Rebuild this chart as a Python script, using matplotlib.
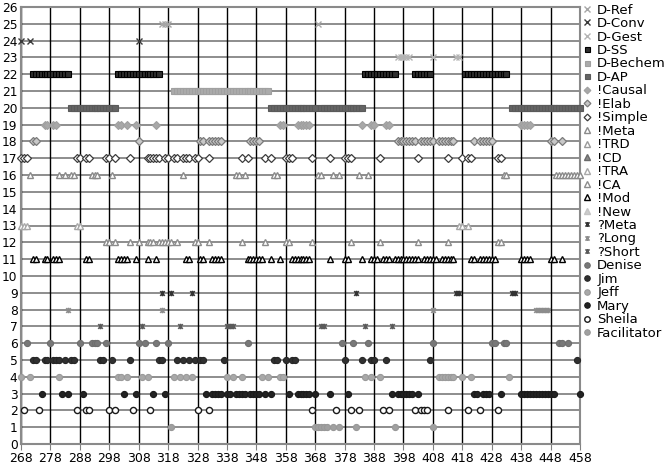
import matplotlib
matplotlib.use("Agg")
import matplotlib.pyplot as plt
from matplotlib.path import Path

# ---------------- data (x positions) ----------------
series_names = ["D-Ref", "D-Conv", "D-Gest", "D-SS", "D-Bechem", "D-AP",
                "!Causal", "!Elab", "!Simple", "!Meta", "!TRD", "!CD", "!TRA",
                "!CA", "!Mod", "!New", "?Meta", "?Long", "?Short",
                "Denise", "Jim", "Jeff", "Mary", "Sheila", "Facilitator"]
series_rows = [25, 24, 23, 22, 21, 20, 19, 18, 17, 16, 15, 14, 13, 12, 11, 10,
               9, 8, 7, 6, 5, 4, 3, 2, 1]

d_ref = [316, 317, 318, 369]
d_conv = [268, 271, 308]
d_gest = [396, 397, 398, 399, 400, 408, 416, 417]
d_ss = [272, 273, 274, 275, 276, 277, 278, 279, 280, 281, 282, 283, 284,
        301, 302, 303, 304, 305, 306, 307, 308, 309, 310, 311, 312, 313, 314, 315,
        385, 386, 387, 388, 389, 390, 391, 392, 393, 394, 395,
        402, 403, 404, 405, 406, 407,
        419, 420, 421, 422, 423, 424, 425, 426, 427, 428, 429, 430, 431, 432, 433]
d_bechem = [320, 321, 322, 323, 324, 325, 326, 327, 328, 329, 330, 331, 332,
            333, 334, 335, 336, 337, 338, 339, 340, 341, 342, 343, 344, 345,
            346, 347, 348, 349, 350, 351, 352]
d_ap = [285, 286, 287, 288, 289, 290, 291, 292, 293, 294, 295, 296, 297, 298, 299, 300,
        353, 354, 355, 356, 357, 358, 359, 360, 361, 362, 363, 364, 365, 366, 367, 368,
        370, 371, 372, 373, 374, 375, 376, 377, 378, 379, 380, 381, 382, 383, 384,
        435, 436, 437, 438, 439, 440, 441, 442, 443, 444, 445, 446, 447, 448, 449,
        450, 451, 452, 453, 454, 455, 456, 457, 458]
causal = [276, 277, 279, 280, 301, 302, 304, 307, 314, 356, 357, 362, 363, 364,
          365, 366, 384, 387, 388, 392, 393, 438, 439, 440, 441]
elab = [272, 273, 308, 329, 330, 332, 333, 334, 335, 336, 346, 347, 348, 349,
        396, 397, 398, 399, 400, 401, 402, 404, 405, 406, 407, 408, 410, 411,
        412, 413, 414, 415, 422, 424, 425, 426, 427, 428, 448, 449, 452]
simple = [268, 269, 270, 287, 288, 290, 291, 297, 298, 300, 305, 311, 312, 313,
          314, 315, 317, 318, 320, 321, 323, 324, 325, 327, 328, 332, 343, 345,
          351, 353, 358, 359, 360, 367, 373, 378, 379, 380, 390, 403, 413, 418,
          420, 421, 430, 431]
meta_ex = [271, 281, 283, 285, 286, 292, 293, 294, 299, 323, 341, 342, 344, 354,
           355, 369, 370, 374, 376, 383, 386, 432, 433, 450, 451, 452, 453, 454,
           455, 456, 457, 458]
trd = []
cd = []
tra = [268, 269, 270, 287, 288, 417, 418, 420]
ca = [297, 298, 300, 305, 308, 311, 312, 313, 315, 316, 317, 318, 319, 321, 327,
      328, 332, 343, 351, 358, 359, 367, 380, 390, 403, 413, 430, 431]
mod = [272, 273, 276, 277, 279, 280, 281, 290, 291, 301, 302, 303, 304, 307, 311,
       314, 324, 325, 329, 330, 333, 334, 335, 336, 345, 346, 347, 348, 349, 350,
       353, 356, 360, 361, 362, 363, 364, 365, 366, 373, 378, 379, 384, 387, 388,
       389, 391, 392, 393, 395, 396, 397, 398, 399, 400, 401, 402, 403, 405, 406,
       407, 408, 409, 411, 412, 413, 414, 415, 421, 422, 424, 425, 426, 427, 428,
       429, 438, 439, 440, 441, 448, 449, 452]
new = []
q_meta = [316, 319, 326, 382, 416, 417, 435, 436]
q_long = [284, 316, 408, 443, 444, 445, 446, 447]
q_short = [295, 309, 322, 338, 339, 340, 370, 371, 385, 394]
denise = [270, 278, 288, 292, 293, 294, 297, 308, 310, 314, 318, 345, 377, 381,
          386, 408, 428, 429, 432, 433, 451, 452, 454]
jim = [272, 273, 276, 277, 279, 280, 281, 283, 285, 286, 295, 296, 299, 305, 315,
       316, 321, 323, 325, 327, 329, 330, 337, 354, 355, 358, 360, 361, 378, 384,
       387, 388, 392, 407, 457]
jeff = [268, 271, 281, 301, 302, 304, 309, 311, 320, 322, 324, 326, 338, 340, 343,
        350, 352, 356, 357, 385, 387, 390, 410, 411, 412, 413, 414, 415, 418, 421, 434]
mary = [275, 282, 284, 289, 303, 307, 313, 317, 331, 333, 334, 335, 336, 338, 339,
        341, 342, 343, 344, 346, 347, 348, 349, 351, 353, 359, 362, 363, 364, 365,
        366, 368, 373, 379, 394, 396, 397, 398, 399, 400, 401, 403, 422, 423, 425,
        426, 427, 431, 438, 439, 440, 441, 442, 443, 444, 445, 446, 447, 448, 449, 458]
sheila = [269, 274, 287, 290, 291, 298, 300, 306, 312, 328, 332, 367, 375, 380,
          383, 391, 393, 402, 404, 405, 406, 413, 420, 424, 430]
facil = [319, 368, 369, 370, 371, 372, 374, 376, 382, 395, 408]

series_x = [d_ref, d_conv, d_gest, d_ss, d_bechem, d_ap, causal, elab, simple,
            meta_ex, trd, cd, tra, ca, mod, new, q_meta, q_long, q_short,
            denise, jim, jeff, mary, sheila, facil]

x_ticks = [268, 278, 288, 298, 308, 318, 328, 338, 348, 358, 368, 378, 388, 398,
           408, 418, 428, 438, 448, 458]
y_ticks = list(range(0, 27))

# ---------------- styles ----------------
star = Path([(-1, -1), (1, 1), (-1, 1), (1, -1), (0, -1.2), (0, 1.2)],
            [Path.MOVETO, Path.LINETO, Path.MOVETO, Path.LINETO, Path.MOVETO, Path.LINETO])

# (marker, size, facecolor, edgecolor, edgewidth)
styles = [
    ("x", 4.5, "none", "#a6a6a6", 1.0),
    ("x", 4.5, "none", "#3a3a3a", 1.0),
    ("x", 4.5, "none", "#b4b4b4", 1.0),
    ("s", 4.0, "#2e2e2e", "#000000", 0.8),
    ("s", 4.0, "#ababab", "#a0a0a0", 0.8),
    ("s", 4.0, "#646464", "#5a5a5a", 0.8),
    ("D", 3.8, "#a8a8a8", "#a0a0a0", 0.8),
    ("D", 3.8, "#c8c8c8", "#7a7a7a", 0.9),
    ("D", 3.8, "#ffffff", "#3c3c3c", 0.9),
    ("^", 4.4, "#ffffff", "#8a8a8a", 1.0),
    ("^", 4.4, "#ffffff", "#9a9a9a", 1.0),
    ("^", 4.4, "#8a8a8a", "#6a6a6a", 1.0),
    ("^", 4.4, "#ffffff", "#a8a8a8", 1.0),
    ("^", 4.4, "#ffffff", "#8c8c8c", 1.0),
    ("^", 4.4, "#ffffff", "#000000", 1.0),
    ("^", 4.4, "#cccccc", "#c4c4c4", 1.0),
    (star, 4.0, "none", "#333333", 1.1),
    (star, 4.0, "none", "#8c8c8c", 1.1),
    (star, 4.0, "none", "#5a5a5a", 1.1),
    ("o", 4.4, "#787878", "#6e6e6e", 0.8),
    ("o", 4.4, "#303030", "#262626", 0.8),
    ("o", 4.4, "#a8a8a8", "#9a9a9a", 0.8),
    ("o", 4.4, "#222222", "#1a1a1a", 0.8),
    ("o", 4.4, "#ffffff", "#1a1a1a", 1.0),
    ("o", 4.4, "#a0a0a0", "#989898", 0.8),
]

fig = plt.figure(figsize=(6.7, 4.7), dpi=100)
ax = fig.add_axes([21 / 670, 1 - 444 / 470, (580 - 21) / 670, (444 - 7) / 470])
ax.set_xlim(268, 458)
ax.set_ylim(0, 26)

# grid
for y in y_ticks:
    ax.axhline(y, color="#7a7a7a", lw=1.2, zorder=1)
for x in x_ticks:
    ax.axvline(x, color="#000000", lw=1.0, zorder=1)

for name, row, xs, st in zip(series_names, series_rows, series_x, styles):
    m, ms, fc, ec, ew = st
    ax.plot(xs, [row] * len(xs), linestyle="none", marker=m, markersize=ms,
            markerfacecolor=fc, markeredgecolor=ec, markeredgewidth=ew,
            label=name, zorder=3, clip_on=False)

ax.set_xticks(x_ticks)
ax.set_yticks(y_ticks)
ax.tick_params(axis="x", direction="out", length=4, color="#808080", pad=2,
               labelsize=9, labelcolor="#000000")
ax.tick_params(axis="y", length=0, pad=2.5, labelsize=8.8, labelcolor="#000000")
for s in ax.spines.values():
    s.set_color("#8a8a8a")
    s.set_linewidth(1.5)

leg = fig.legend(loc="upper left", bbox_to_anchor=(580 / 670, 1 - 1 / 470),
                 frameon=False, fontsize=9.5, handlelength=0.6,
                 handletextpad=0.5, labelspacing=0.035, borderpad=0.2,
                 borderaxespad=0.0, markerscale=0.9)

fig.savefig("out.png", dpi=100)
